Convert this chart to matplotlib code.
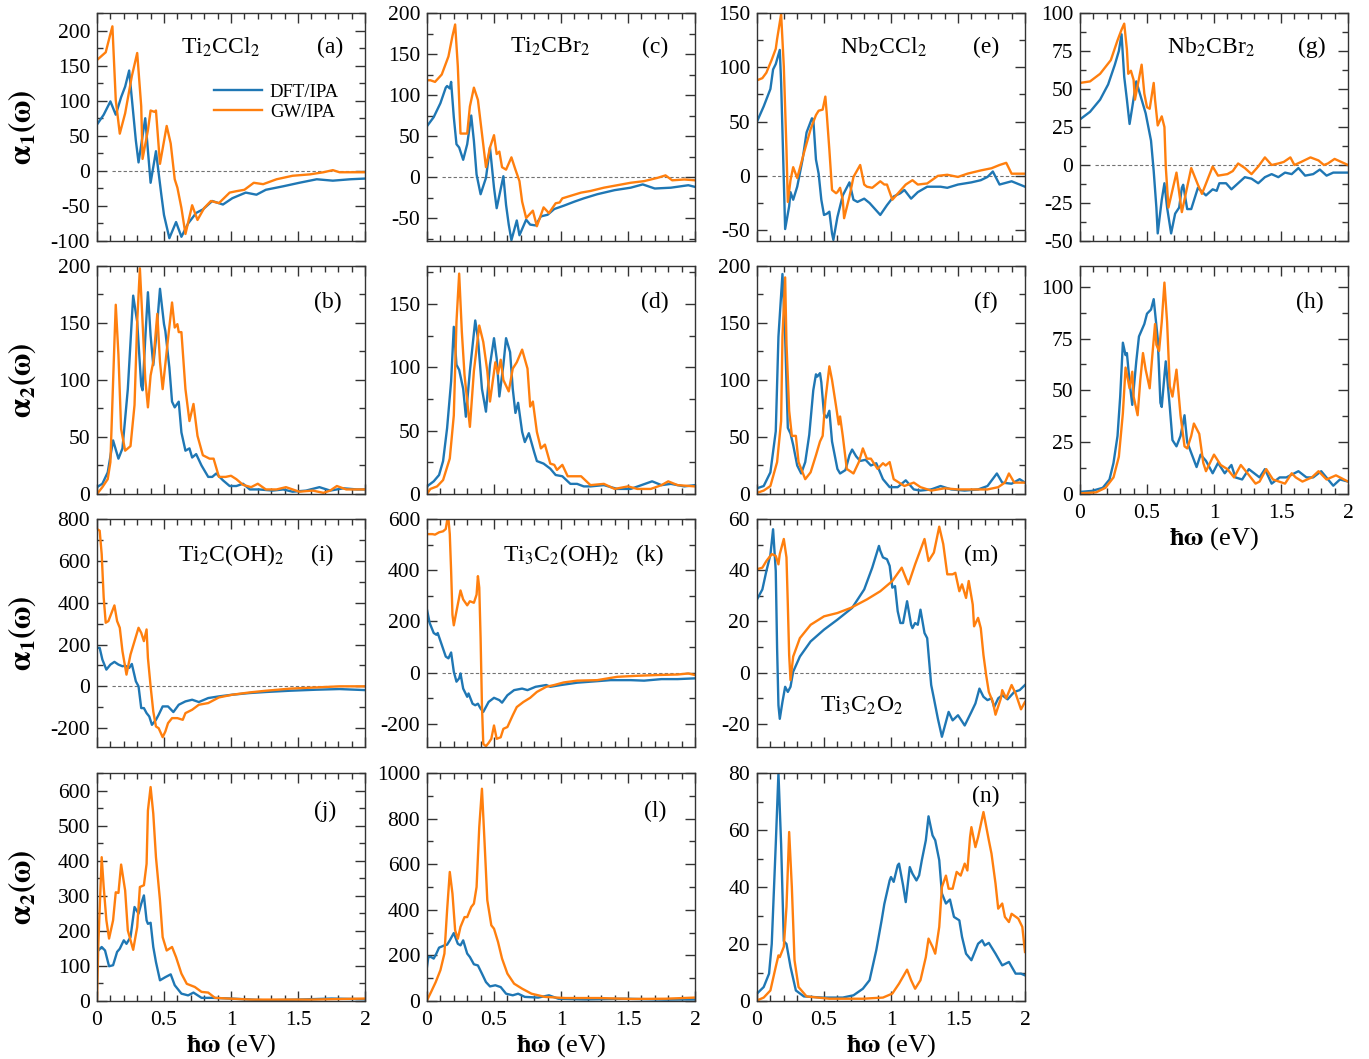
import matplotlib
matplotlib.use("Agg")
import matplotlib.pyplot as plt
from matplotlib.ticker import MultipleLocator, FuncFormatter

plt.rcParams["font.family"] = "serif"
plt.rcParams["font.serif"] = ["Liberation Serif", "DejaVu Serif"]
plt.rcParams["mathtext.fontset"] = "stix"
plt.rcParams["axes.unicode_minus"] = False

DFT_COLOR = "#1f77b4"
GW_COLOR = "#ff7f0e"

# (energy eV, alpha) pairs
# Ti2CCl2
a_dft = [(0, 66), (0.05, 80), (0.10, 99), (0.14, 80), (0.18, 105), (0.21, 120), (0.24, 143), (0.29, 43), (0.31, 12),
         (0.36, 75), (0.40, -17), (0.44, 28), (0.48, -34), (0.50, -63), (0.54, -96), (0.59, -73), (0.63, -94),
         (0.68, -75), (0.74, -60), (0.79, -55), (0.86, -43), (0.94, -48), (1.01, -39), (1.11, -31), (1.19, -34),
         (1.26, -27), (1.39, -22), (1.51, -17), (1.64, -12), (1.76, -14), (1.89, -12), (2.0, -11)]
a_gw = [(0, 158), (0.065, 169), (0.097, 193), (0.115, 206), (0.14, 101), (0.17, 53), (0.21, 82), (0.26, 135),
        (0.30, 168), (0.33, 92), (0.34, 17), (0.38, 58), (0.40, 86), (0.43, 84), (0.44, 86), (0.47, 10), (0.52, 64),
        (0.55, 39), (0.58, -12), (0.60, -24), (0.63, -53), (0.66, -90), (0.71, -49), (0.75, -70), (0.80, -53),
        (0.85, -43), (0.91, -46), (0.99, -31), (1.04, -29), (1.10, -27), (1.17, -17), (1.24, -19), (1.34, -12),
        (1.46, -7), (1.59, -5), (1.69, -2), (1.76, 1), (1.81, -2), (2.0, -2)]
b_dft = [(0, 6), (0.04, 9), (0.08, 19), (0.12, 47), (0.16, 31), (0.19, 40), (0.23, 92), (0.27, 174), (0.30, 151),
         (0.33, 95), (0.34, 91), (0.36, 136), (0.38, 177), (0.40, 139), (0.42, 113), (0.44, 136), (0.47, 180),
         (0.50, 149), (0.51, 143), (0.54, 111), (0.56, 81), (0.58, 76), (0.61, 81), (0.63, 54), (0.66, 38),
         (0.69, 40), (0.71, 32), (0.74, 35), (0.78, 25), (0.83, 15), (0.86, 15), (0.89, 18), (0.94, 12), (0.99, 7),
         (1.04, 7), (1.09, 9), (1.14, 4), (1.21, 4), (1.31, 3), (1.39, 4), (1.46, 2), (1.56, 3), (1.66, 6),
         (1.74, 3), (1.84, 5), (1.94, 4), (2.0, 4)]
b_gw = [(0, 0), (0.04, 6), (0.08, 13), (0.10, 28), (0.11, 63), (0.13, 133), (0.14, 166), (0.16, 122), (0.18, 57),
        (0.21, 38), (0.25, 42), (0.28, 78), (0.30, 151), (0.32, 198), (0.34, 151), (0.36, 101), (0.38, 76),
        (0.40, 104), (0.42, 116), (0.45, 158), (0.47, 116), (0.49, 92), (0.53, 136), (0.56, 168), (0.58, 146),
        (0.60, 149), (0.61, 142), (0.63, 142), (0.66, 92), (0.69, 64), (0.72, 79), (0.75, 51), (0.79, 34),
        (0.84, 31), (0.87, 31), (0.91, 15), (0.96, 15), (1.00, 16), (1.04, 13), (1.09, 8), (1.15, 6), (1.20, 9),
        (1.26, 4), (1.34, 4), (1.41, 6), (1.51, 2), (1.61, 3), (1.69, 1), (1.74, 3), (1.79, 7), (1.86, 4), (2.0, 4)]

# Ti2CBr2
c_dft = [(0, 62), (0.05, 73), (0.10, 90), (0.14, 109), (0.15, 111), (0.17, 108), (0.18, 116), (0.20, 73), (0.22, 40),
         (0.24, 36), (0.27, 21), (0.30, 40), (0.33, 75), (0.35, 44), (0.37, 3), (0.40, -21), (0.44, -1), (0.47, 36),
         (0.50, -13), (0.52, -38), (0.57, 1), (0.59, -34), (0.61, -58), (0.63, -77), (0.67, -53), (0.69, -71),
         (0.74, -52), (0.77, -58), (0.81, -59), (0.85, -48), (0.90, -46), (0.95, -39), (1.02, -35), (1.10, -30),
         (1.17, -26), (1.27, -21), (1.40, -16), (1.52, -13), (1.61, -9), (1.70, -14), (1.82, -13), (1.95, -10),
         (2.0, -12)]
c_gw = [(0, 118), (0.025, 118), (0.06, 116), (0.11, 125), (0.16, 147), (0.19, 172), (0.21, 186), (0.23, 135),
        (0.25, 53), (0.27, 53), (0.30, 53), (0.32, 86), (0.35, 109), (0.38, 94), (0.41, 53), (0.44, 12), (0.47, 36),
        (0.50, 51), (0.52, 28), (0.54, 31), (0.56, 12), (0.59, 9), (0.63, 24), (0.66, 9), (0.69, -5), (0.71, -30),
        (0.74, -50), (0.79, -41), (0.82, -60), (0.87, -37), (0.91, -44), (0.96, -32), (0.99, -31), (1.01, -26),
        (1.07, -23), (1.15, -19), (1.22, -17), (1.32, -13), (1.42, -10), (1.52, -7), (1.62, -5), (1.72, -1),
        (1.78, 2), (1.83, -4), (1.92, -3), (2.0, -4)]
d_dft = [(0, 6), (0.05, 10), (0.09, 15), (0.12, 26), (0.15, 52), (0.18, 89), (0.20, 132), (0.22, 102), (0.24, 98),
         (0.27, 83), (0.29, 61), (0.32, 97), (0.36, 137), (0.38, 123), (0.41, 83), (0.44, 65), (0.47, 102),
         (0.50, 123), (0.52, 107), (0.54, 77), (0.57, 102), (0.59, 123), (0.62, 112), (0.64, 83), (0.66, 64),
         (0.68, 72), (0.71, 49), (0.73, 41), (0.76, 48), (0.80, 33), (0.82, 26), (0.87, 24), (0.92, 20), (0.96, 15),
         (1.01, 14), (1.07, 8), (1.12, 8), (1.17, 6), (1.22, 6), (1.32, 7), (1.42, 4), (1.52, 4), (1.60, 7),
         (1.68, 10), (1.75, 7), (1.82, 8), (1.92, 6), (2.0, 7)]
d_gw = [(0, 0), (0.025, 4), (0.075, 6), (0.12, 11), (0.17, 28), (0.20, 62), (0.22, 136), (0.24, 174), (0.26, 128),
        (0.28, 94), (0.32, 53), (0.35, 97), (0.39, 133), (0.42, 120), (0.45, 97), (0.47, 73), (0.51, 104),
        (0.53, 95), (0.55, 106), (0.57, 90), (0.61, 81), (0.64, 99), (0.67, 104), (0.71, 114), (0.75, 99),
        (0.77, 69), (0.79, 73), (0.82, 49), (0.85, 36), (0.88, 39), (0.92, 24), (0.95, 23), (0.97, 19), (1.01, 23),
        (1.05, 14), (1.10, 14), (1.15, 14), (1.22, 7), (1.32, 8), (1.40, 4), (1.50, 6), (1.57, 4), (1.67, 4),
        (1.75, 7), (1.80, 10), (1.87, 7), (2.0, 6)]

# Nb2CCl2
e_dft = [(0, 50), (0.05, 64), (0.10, 80), (0.12, 98), (0.14, 103), (0.17, 116), (0.18, 86), (0.20, -4), (0.21, -49),
         (0.24, -28), (0.25, -15), (0.27, -22), (0.30, -10), (0.34, 15), (0.37, 40), (0.41, 53), (0.42, 52),
         (0.44, 15), (0.46, 2), (0.48, -22), (0.50, -36), (0.52, -35), (0.54, -33), (0.56, -53), (0.57, -59),
         (0.60, -38), (0.64, -18), (0.69, -6), (0.72, -22), (0.75, -24), (0.80, -21), (0.84, -25), (0.92, -36),
         (0.97, -27), (1.02, -19), (1.07, -16), (1.10, -13), (1.15, -21), (1.20, -15), (1.27, -10), (1.37, -10),
         (1.42, -11), (1.50, -8), (1.60, -6), (1.67, -4), (1.72, -1), (1.76, 4), (1.81, -8), (1.90, -5), (2.0, -10)]
e_gw = [(0, 88), (0.04, 90), (0.07, 95), (0.11, 107), (0.14, 117), (0.15, 126), (0.18, 149), (0.20, 101), (0.22, 24),
        (0.23, -24), (0.25, -4), (0.27, 8), (0.30, -2), (0.35, 21), (0.40, 43), (0.44, 56), (0.46, 60), (0.49, 61),
        (0.51, 73), (0.52, 58), (0.54, 24), (0.56, -13), (0.59, -16), (0.60, -15), (0.62, -11), (0.64, -22),
        (0.65, -39), (0.69, -19), (0.72, -1), (0.77, 10), (0.80, -8), (0.82, -10), (0.86, -11), (0.89, -8),
        (0.92, -5), (0.95, -8), (0.97, -8), (1.01, -22), (1.06, -15), (1.11, -8), (1.16, -4), (1.20, -8),
        (1.27, -7), (1.35, 0), (1.42, 1), (1.50, -1), (1.57, 2), (1.67, 5), (1.75, 7), (1.81, 10), (1.86, 12),
        (1.90, 2), (1.95, 2), (2.0, 2)]
f_dft = [(0, 5), (0.05, 7), (0.10, 19), (0.14, 55), (0.16, 138), (0.19, 193), (0.21, 138), (0.23, 58), (0.25, 53),
         (0.27, 43), (0.30, 25), (0.33, 18), (0.36, 28), (0.39, 52), (0.42, 91), (0.44, 105), (0.45, 103),
         (0.47, 106), (0.48, 98), (0.50, 70), (0.52, 67), (0.54, 73), (0.56, 46), (0.60, 22), (0.62, 18),
         (0.66, 21), (0.69, 34), (0.71, 39), (0.74, 33), (0.77, 29), (0.81, 30), (0.85, 25), (0.89, 27), (0.94, 13),
         (0.99, 6), (1.05, 6), (1.11, 12), (1.17, 4), (1.22, 3), (1.30, 4), (1.37, 7), (1.45, 4), (1.55, 3),
         (1.65, 4), (1.72, 7), (1.79, 18), (1.83, 10), (1.90, 9), (1.96, 13), (2.0, 10)]
f_gw = [(0, 1), (0.05, 3), (0.10, 7), (0.15, 28), (0.18, 64), (0.19, 138), (0.21, 190), (0.22, 132), (0.24, 73),
        (0.26, 51), (0.29, 51), (0.31, 28), (0.36, 13), (0.40, 19), (0.44, 34), (0.47, 46), (0.49, 51), (0.51, 82),
        (0.54, 112), (0.56, 100), (0.59, 77), (0.61, 61), (0.62, 68), (0.64, 51), (0.67, 22), (0.72, 18),
        (0.76, 28), (0.79, 40), (0.82, 31), (0.85, 31), (0.90, 22), (0.94, 27), (0.96, 25), (0.99, 28), (1.02, 13),
        (1.10, 7), (1.17, 10), (1.22, 6), (1.30, 3), (1.40, 5), (1.50, 4), (1.60, 4), (1.72, 4), (1.80, 6),
        (1.85, 10), (1.88, 18), (1.92, 10), (2.0, 10)]

# Nb2CBr2
g_dft = [(0, 30), (0.075, 35), (0.15, 43), (0.21, 53), (0.26, 66), (0.29, 75), (0.31, 86), (0.33, 58), (0.35, 43),
         (0.37, 27), (0.39, 38), (0.42, 55), (0.45, 46), (0.49, 34), (0.53, 16), (0.55, -4), (0.57, -28),
         (0.58, -45), (0.61, -23), (0.63, -12), (0.65, -28), (0.68, -45), (0.71, -32), (0.74, -28), (0.76, -15),
         (0.77, -13), (0.80, -29), (0.83, -29), (0.88, -15), (0.94, -20), (0.99, -16), (1.02, -17), (1.04, -12),
         (1.09, -12), (1.13, -16), (1.18, -12), (1.23, -8), (1.28, -9), (1.33, -12), (1.38, -8), (1.43, -6),
         (1.48, -8), (1.53, -5), (1.58, -6), (1.63, -2), (1.68, -7), (1.74, -6), (1.79, -3), (1.84, -7),
         (1.89, -5), (1.95, -5), (2.0, -5)]
g_gw = [(0, 54), (0.075, 55), (0.15, 60), (0.23, 69), (0.28, 82), (0.31, 89), (0.33, 93), (0.35, 76), (0.36, 60),
        (0.38, 62), (0.40, 56), (0.41, 43), (0.46, 66), (0.48, 47), (0.50, 38), (0.52, 37), (0.55, 54), (0.56, 43),
        (0.58, 26), (0.61, 32), (0.63, 25), (0.64, -1), (0.66, -28), (0.72, -5), (0.76, -31), (0.83, -2),
        (0.88, -13), (0.91, -19), (0.95, -10), (0.99, -1), (1.03, -7), (1.10, -6), (1.14, -4), (1.18, 1),
        (1.23, -2), (1.28, -6), (1.33, -1), (1.38, 5), (1.43, 0), (1.48, 1), (1.52, 2), (1.57, 5), (1.60, 0),
        (1.65, 2), (1.72, 5), (1.78, 3), (1.82, 0), (1.85, 1), (1.90, 4), (1.95, 2), (2.0, 0)]
h_dft = [(0, 1), (0.09, 1.5), (0.17, 3), (0.22, 7), (0.25, 15), (0.28, 28), (0.30, 47), (0.32, 73), (0.34, 67),
         (0.35, 68), (0.37, 54), (0.39, 43), (0.42, 64), (0.44, 76), (0.48, 82), (0.50, 87), (0.53, 89), (0.55, 94),
         (0.58, 75), (0.60, 44), (0.61, 42), (0.63, 57), (0.64, 64), (0.67, 42), (0.69, 26), (0.72, 23), (0.75, 28),
         (0.78, 38), (0.80, 25), (0.87, 13), (0.90, 19), (0.94, 16), (0.99, 10), (1.03, 15), (1.08, 10), (1.13, 14),
         (1.16, 8), (1.21, 7), (1.26, 12), (1.34, 8), (1.38, 12), (1.43, 5), (1.49, 8), (1.54, 8), (1.63, 11),
         (1.69, 8), (1.74, 8), (1.80, 11), (1.89, 4), (1.94, 7), (2.0, 6)]
h_gw = [(0, 0.3), (0.12, 0.8), (0.19, 3), (0.25, 8), (0.29, 18), (0.32, 39), (0.34, 61), (0.37, 51), (0.39, 59),
        (0.40, 47), (0.43, 38), (0.45, 55), (0.47, 68), (0.49, 60), (0.52, 51), (0.54, 67), (0.56, 82), (0.57, 72),
        (0.59, 69), (0.61, 83), (0.63, 102), (0.65, 83), (0.67, 52), (0.69, 47), (0.72, 60), (0.75, 38),
        (0.78, 23), (0.80, 22), (0.83, 28), (0.85, 34), (0.89, 29), (0.92, 15), (0.94, 11), (1.00, 19), (1.05, 14),
        (1.10, 12), (1.15, 8), (1.20, 14), (1.25, 10), (1.31, 5), (1.34, 6), (1.39, 12), (1.44, 7), (1.53, 5),
        (1.58, 10), (1.61, 8), (1.66, 6), (1.73, 8), (1.78, 11), (1.84, 7), (1.91, 9), (2.0, 6)]

# Ti2C(OH)2
i_dft = [(0, 184), (0.02, 184), (0.04, 128), (0.07, 80), (0.10, 104), (0.13, 117), (0.16, 104), (0.19, 96),
         (0.21, 99), (0.24, 88), (0.26, 107), (0.29, 24), (0.31, 0), (0.33, -104), (0.35, -104), (0.37, -128),
         (0.39, -144), (0.41, -184), (0.44, -160), (0.46, -136), (0.49, -96), (0.53, -96), (0.57, -123),
         (0.61, -88), (0.66, -72), (0.71, -64), (0.76, -75), (0.83, -56), (0.91, -48), (1.01, -40), (1.14, -32),
         (1.26, -27), (1.44, -21), (1.64, -16), (1.81, -13), (2.0, -18)]
i_gw = [(0, 752), (0.02, 744), (0.035, 632), (0.05, 424), (0.065, 304), (0.085, 312), (0.13, 387), (0.15, 312),
        (0.17, 280), (0.19, 168), (0.22, 56), (0.25, 152), (0.28, 216), (0.31, 280), (0.33, 256), (0.35, 216),
        (0.37, 272), (0.38, 136), (0.40, 0), (0.42, -120), (0.44, -192), (0.46, -200), (0.49, -243), (0.51, -216),
        (0.53, -176), (0.56, -152), (0.60, -152), (0.64, -160), (0.66, -128), (0.71, -112), (0.76, -88),
        (0.83, -80), (0.91, -53), (1.01, -40), (1.14, -29), (1.26, -21), (1.44, -11), (1.64, -5), (1.81, 0),
        (2.0, 0)]
j_dft = [(0, 140), (0.035, 154), (0.06, 144), (0.09, 99), (0.12, 102), (0.15, 140), (0.17, 149), (0.20, 173),
         (0.22, 163), (0.25, 182), (0.28, 268), (0.31, 249), (0.33, 277), (0.35, 301), (0.37, 230), (0.38, 220),
         (0.40, 223), (0.42, 154), (0.44, 111), (0.47, 59), (0.51, 68), (0.55, 76), (0.58, 45), (0.63, 21),
         (0.68, 16), (0.72, 24), (0.78, 9), (0.86, 9), (1.00, 7), (1.25, 2), (1.50, 4), (1.75, 7), (2.0, 5)]
j_gw = [(0, 0), (0.01, 163), (0.035, 410), (0.05, 325), (0.07, 230), (0.09, 178), (0.12, 230), (0.14, 310),
        (0.16, 308), (0.18, 389), (0.21, 315), (0.23, 201), (0.27, 146), (0.30, 211), (0.32, 325), (0.35, 330),
        (0.37, 391), (0.38, 543), (0.40, 610), (0.42, 534), (0.44, 410), (0.47, 287), (0.49, 182), (0.52, 144),
        (0.56, 154), (0.59, 125), (0.63, 78), (0.67, 49), (0.73, 40), (0.78, 26), (0.83, 24), (0.88, 9),
        (0.98, 7), (1.15, 4), (1.35, 4), (1.60, 4), (2.0, 7)]

# Ti3C2(OH)2
k_dft = [(0, 246), (0.02, 194), (0.05, 155), (0.07, 148), (0.08, 155), (0.11, 109), (0.14, 63), (0.16, 56),
         (0.18, 79), (0.20, 4), (0.22, -35), (0.24, -22), (0.25, -3), (0.27, -62), (0.30, -94), (0.31, -81),
         (0.34, -121), (0.36, -127), (0.38, -121), (0.40, -140), (0.42, -153), (0.46, -114), (0.50, -98),
         (0.54, -107), (0.56, -117), (0.60, -88), (0.65, -68), (0.71, -62), (0.75, -68), (0.81, -55), (0.89, -48),
         (0.92, -55), (1.00, -48), (1.12, -39), (1.27, -33), (1.37, -29), (1.52, -29), (1.62, -31), (1.75, -25),
         (1.87, -25), (2.0, -22)]
k_gw = [(0, 541), (0.04, 541), (0.06, 539), (0.09, 548), (0.12, 552), (0.14, 561), (0.15, 594), (0.16, 600),
        (0.17, 541), (0.18, 397), (0.19, 226), (0.20, 185), (0.22, 240), (0.25, 321), (0.27, 286), (0.30, 263),
        (0.32, 279), (0.35, 273), (0.37, 305), (0.38, 377), (0.39, 332), (0.40, 135), (0.41, -127), (0.42, -278),
        (0.44, -287), (0.46, -274), (0.48, -258), (0.50, -206), (0.52, -258), (0.55, -252), (0.57, -219),
        (0.60, -212), (0.64, -166), (0.67, -134), (0.72, -114), (0.77, -98), (0.82, -75), (0.89, -55),
        (0.95, -48), (1.02, -38), (1.12, -31), (1.27, -29), (1.42, -16), (1.57, -12), (1.72, -9), (1.87, -7),
        (1.95, -3), (2.0, -9)]
l_dft = [(0, 150), (0.01, 193), (0.03, 193), (0.05, 186), (0.07, 208), (0.09, 234), (0.13, 244), (0.15, 247),
         (0.17, 266), (0.20, 298), (0.23, 251), (0.25, 244), (0.27, 266), (0.30, 208), (0.32, 193), (0.35, 161),
         (0.38, 156), (0.41, 120), (0.44, 83), (0.47, 64), (0.51, 69), (0.55, 61), (0.59, 32), (0.64, 25),
         (0.68, 32), (0.73, 18), (0.83, 15), (0.91, 25), (0.98, 10), (1.18, 7), (1.48, 10), (1.78, 6), (2.0, 7)]
l_gw = [(0, 3), (0.03, 39), (0.065, 83), (0.10, 135), (0.13, 208), (0.15, 398), (0.17, 566), (0.19, 471),
        (0.21, 310), (0.23, 273), (0.25, 325), (0.28, 368), (0.30, 368), (0.33, 412), (0.35, 427), (0.37, 500),
        (0.39, 763), (0.41, 931), (0.43, 690), (0.45, 442), (0.48, 332), (0.50, 317), (0.53, 259), (0.56, 186),
        (0.60, 120), (0.65, 76), (0.71, 54), (0.78, 32), (0.88, 18), (1.03, 13), (1.28, 13), (1.53, 9),
        (1.78, 10), (2.0, 15)]

# Ti3C2O2
m_dft = [(0, 28.6), (0.04, 32.5), (0.07, 39.7), (0.10, 46), (0.12, 56), (0.14, 39.7), (0.15, 9.6), (0.16, -12.7),
         (0.17, -18), (0.19, -11.4), (0.21, -5.5), (0.23, -7.5), (0.25, -5.5), (0.27, 0.4), (0.32, 6.3),
         (0.40, 12.2), (0.50, 16.8), (0.60, 20.7), (0.71, 25.3), (0.80, 32.5), (0.86, 41), (0.91, 49.5),
         (0.92, 47.6), (0.94, 45), (0.97, 44.3), (0.99, 41.7), (1.01, 33.2), (1.03, 33.8), (1.05, 24), (1.07, 19.4),
         (1.09, 19.4), (1.12, 27.9), (1.15, 18.7), (1.16, 17.4), (1.18, 19.4), (1.20, 18.7), (1.22, 24.6),
         (1.25, 15.5), (1.27, 13.5), (1.30, -4.8), (1.32, -10), (1.35, -18), (1.38, -25), (1.43, -15.3),
         (1.46, -18.6), (1.50, -16.6), (1.55, -20.6), (1.60, -15.3), (1.63, -12), (1.66, -6.2), (1.69, -9.4),
         (1.72, -10.7), (1.75, -10), (1.77, -13.4), (1.80, -10), (1.83, -8.8), (1.87, -10.4), (1.92, -7.5),
         (1.96, -6.8), (2.0, -4.8)]
m_gw = [(0, 40.4), (0.04, 41), (0.07, 43.6), (0.11, 46.3), (0.14, 45.6), (0.16, 42.3), (0.17, 46.3), (0.20, 52.2),
        (0.22, 45), (0.23, 26.6), (0.24, 6.9), (0.25, -2.9), (0.27, 6.3), (0.32, 13.5), (0.40, 18.7), (0.50, 22),
        (0.60, 23.3), (0.70, 25.3), (0.82, 28.6), (0.92, 31.8), (1.01, 35.8), (1.08, 41), (1.13, 34.5),
        (1.18, 42.3), (1.25, 52.2), (1.28, 43.6), (1.32, 46.9), (1.36, 57), (1.39, 50.2), (1.42, 38.4),
        (1.46, 38.4), (1.48, 39), (1.51, 31.8), (1.53, 34.5), (1.56, 29.2), (1.58, 35.8), (1.61, 26.6),
        (1.62, 18.1), (1.65, 21.4), (1.67, 17.4), (1.69, 6.9), (1.71, -0.9), (1.73, -7.5), (1.76, -11.4),
        (1.78, -16.4), (1.82, -10), (1.83, -6.8), (1.86, -10), (1.90, -4.8), (1.93, -8.1), (1.97, -14.3),
        (2.0, -11.4)]
n_dft = [(0, 2.6), (0.05, 4.9), (0.09, 9.6), (0.11, 20), (0.14, 55), (0.16, 80), (0.18, 55), (0.20, 21), (0.22, 20),
         (0.25, 12), (0.29, 3.7), (0.35, 1.6), (0.49, 1.2), (0.64, 1.2), (0.72, 2), (0.79, 4.3), (0.84, 7.3),
         (0.89, 17.8), (0.93, 28.3), (0.95, 34), (0.99, 42.3), (1.00, 43.5), (1.02, 41.8), (1.05, 47.6),
         (1.06, 48.2), (1.09, 40.6), (1.11, 34.7), (1.14, 47), (1.16, 44.7), (1.19, 42.3), (1.21, 44.1),
         (1.23, 49.4), (1.26, 56.4), (1.28, 64.8), (1.31, 58.1), (1.33, 56.4), (1.36, 49.4), (1.38, 37.7),
         (1.41, 34.2), (1.44, 35.6), (1.47, 29.5), (1.51, 28.3), (1.53, 22.5), (1.56, 16.6), (1.60, 14.3),
         (1.65, 20.1), (1.68, 21.3), (1.70, 19.5), (1.73, 20.4), (1.78, 16.6), (1.83, 12.5), (1.88, 13.7),
         (1.93, 9.6), (1.97, 9.6), (2.0, 9)]
n_gw = [(0, 0.2), (0.05, 1.2), (0.10, 3.7), (0.14, 12), (0.16, 16), (0.17, 15.4), (0.20, 19), (0.22, 33),
        (0.24, 59.3), (0.26, 40), (0.28, 14.3), (0.31, 4.9), (0.37, 1.6), (0.54, 0.8), (0.79, 0.8), (0.94, 1.2),
        (1.01, 2.6), (1.06, 6.1), (1.12, 11), (1.15, 7.3), (1.18, 4.3), (1.22, 7.3), (1.26, 15.4), (1.28, 21.9),
        (1.31, 19), (1.33, 16.6), (1.36, 26), (1.38, 40), (1.41, 44), (1.43, 39.4), (1.46, 39.4), (1.49, 45.3),
        (1.52, 44), (1.55, 48.2), (1.57, 45.8), (1.59, 57.5), (1.60, 61), (1.63, 54), (1.65, 57.5), (1.69, 66.3),
        (1.73, 56.4), (1.75, 51.7), (1.78, 41.2), (1.80, 32.4), (1.83, 34.2), (1.85, 29.5), (1.88, 27.7),
        (1.90, 30.6), (1.95, 28.9), (1.98, 26), (2.0, 17.2)]

# layout in pixels of the original 1369x1059 figure
FIG_W, FIG_H = 1369, 1059
col_left = [97, 427, 757, 1080]
row_bottom = [241, 494, 747, 1001]
AX_W, AX_H = 268, 228

# letter, dft, gw, row, col, ylim, major, minor, compound, compound pos, tag pos
panels = [
    ("a", a_dft, a_gw, 0, 0, (-100, 225), 50, 25, r"Ti$_2$CCl$_2$", (0.46, 0.85), (0.87, 0.85)),
    ("c", c_dft, c_gw, 0, 1, (-78, 200), 50, 25, r"Ti$_2$CBr$_2$", (0.46, 0.85), (0.85, 0.85)),
    ("e", e_dft, e_gw, 0, 2, (-60, 150), 50, 25, r"Nb$_2$CCl$_2$", (0.47, 0.85), (0.855, 0.85)),
    ("g", g_dft, g_gw, 0, 3, (-50, 100), 25, 12.5, r"Nb$_2$CBr$_2$", (0.49, 0.85), (0.865, 0.85)),
    ("b", b_dft, b_gw, 1, 0, (0, 200), 50, 25, None, None, (0.86, 0.84)),
    ("d", d_dft, d_gw, 1, 1, (0, 180), 50, 25, None, None, (0.85, 0.84)),
    ("f", f_dft, f_gw, 1, 2, (0, 200), 50, 25, None, None, (0.855, 0.84)),
    ("h", h_dft, h_gw, 1, 3, (0, 110), 25, 12.5, None, None, (0.857, 0.84)),
    ("i", i_dft, i_gw, 2, 0, (-290, 800), 200, 100, r"Ti$_2$C(OH)$_2$", (0.50, 0.84), (0.84, 0.84)),
    ("k", k_dft, k_gw, 2, 1, (-290, 600), 200, 100, r"Ti$_3$C$_2$(OH)$_2$", (0.50, 0.84), (0.83, 0.84)),
    ("m", m_dft, m_gw, 2, 2, (-29, 60), 20, 10, r"Ti$_3$C$_2$O$_2$", (0.39, 0.18), (0.835, 0.84)),
    ("j", j_dft, j_gw, 3, 0, (0, 650), 100, 50, None, None, (0.85, 0.83)),
    ("l", l_dft, l_gw, 3, 1, (0, 1000), 200, 100, None, None, (0.85, 0.83)),
    ("n", n_dft, n_gw, 3, 2, (0, 80), 20, 10, None, None, (0.855, 0.895)),
]

fmt = FuncFormatter(lambda v, p: f"{v:g}")
fig = plt.figure(figsize=(FIG_W / 100, FIG_H / 100), dpi=100)

for letter, dft, gw, row, col, ylim, major, minor, compound, cpos, tpos in panels:
    rect = [col_left[col] / FIG_W, 1 - row_bottom[row] / FIG_H, AX_W / FIG_W, AX_H / FIG_H]
    ax = fig.add_axes(rect)
    dx, dy = zip(*dft)
    gx, gy = zip(*gw)
    ax.plot(dx, dy, color=DFT_COLOR, lw=1.7, label="DFT/IPA")
    ax.plot(gx, gy, color=GW_COLOR, lw=1.7, label="GW/IPA")
    if row in (0, 2):
        ax.axhline(0, xmin=0.055, xmax=1, color="0.45", lw=0.8, ls=(0, (3, 2)), zorder=0)

    ax.set_xlim(0, 2)
    ax.set_ylim(*ylim)
    ax.xaxis.set_major_locator(MultipleLocator(0.5))
    ax.xaxis.set_minor_locator(MultipleLocator(0.1))
    ax.yaxis.set_major_locator(MultipleLocator(major))
    ax.yaxis.set_minor_locator(MultipleLocator(minor))
    ax.xaxis.set_major_formatter(fmt)
    ax.yaxis.set_major_formatter(fmt)
    ax.tick_params(which="both", direction="in", top=True, right=True, width=1.0, color="#333333")
    ax.tick_params(which="major", length=7, labelsize=15.5, pad=5)
    ax.tick_params(axis="x", which="major", pad=7)
    ax.tick_params(which="minor", length=4)
    for sp in ax.spines.values():
        sp.set_linewidth(1.0)
        sp.set_color("#333333")

    show_x = row == 3 or letter == "h"
    ax.tick_params(axis="x", labelbottom=show_x)
    if show_x:
        ax.set_xlabel(r"$\mathbf{\hbar\omega}$ (eV)", fontsize=19, labelpad=2)

    if col == 0:
        ylab = r"$\mathbf{\alpha_1(\omega)}$" if row in (0, 2) else r"$\mathbf{\alpha_2(\omega)}$"
        ax.set_ylabel(ylab, fontsize=22)
        ax.yaxis.set_label_coords(-0.22, 0.5)

    if compound:
        ax.text(cpos[0], cpos[1], compound, transform=ax.transAxes, fontsize=17, ha="center", va="center")
    ax.text(tpos[0], tpos[1], f"({letter})", transform=ax.transAxes, fontsize=17, ha="center", va="center")

    if letter == "a":
        ax.legend(loc="upper left", bbox_to_anchor=(0.40, 0.73), frameon=False, fontsize=13.5,
                  handlelength=2.6, handletextpad=0.4, labelspacing=0.15, borderpad=0)

fig.savefig("out.png", dpi=100)
